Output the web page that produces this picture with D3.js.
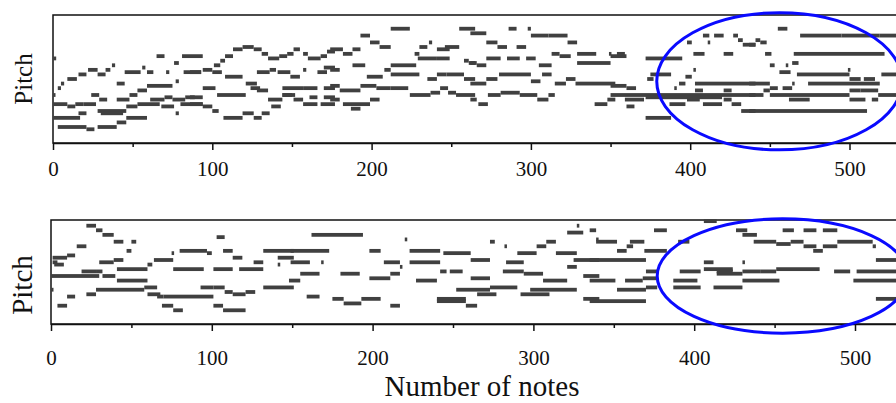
<!DOCTYPE html>
<html>
<head>
<meta charset="utf-8">
<script src="https://cdn.jsdelivr.net/npm/d3@7"></script>
<style>
    html, body { margin: 0; padding: 0; background: #fff; }
    svg { display: block; font-family: "Liberation Serif", "Times New Roman", serif; }
</style>
</head>
<body>
<div id="chart"></div>
<script>
// x ticks (number of notes)
var majorTicks = [0, 100, 200, 300, 400, 500];
var minorTicks = [50, 150, 250, 350, 450];

// notes: [start, end, pitch]  (pitch counted in semitones from the bottom of the panel)
var topNotes = [
    [0,2,37],[65,70,38],[81,94,38],[76,79,35],[71,73,31],
    [0,1,21],[3,5,24],[5,7,26],[9,15,28],[16,21,30],[22,28,32],[28,33,30],[33,36,32],[37,39,34],[45,55,31],[56,58,33],[59,63,31],
    [40,45,26],
    [24,29,21],[29,34,19],[40,48,19],[48,53,21],[53,59,23],[59,75,25],[77,79,27],[82,93,31],
    [61,70,19],[70,75,20],[75,83,19],[83,89,20],
    [0,9,17],[9,14,16],[14,19,17],[19,27,17],[28,46,14],[30,44,13],[46,53,16],[53,67,17],[68,76,16],[77,79,13],[80,94,17],
    [0,17,11],[16,21,13],[46,59,11],
    [3,21,7],[21,26,6],[28,40,7],[40,46,9],
    [101,105,34],[105,108,36],[108,113,38],[113,119,41],[119,126,42],[126,131,41],[131,135,39],[135,142,37],[142,147,38],[147,151,39],[151,155,41],[157,160,39],[160,168,37],[168,172,38],[172,177,40],
    [86,93,31],[94,100,32],[100,106,31],[108,119,29],[128,136,31],[136,140,32],[141,149,31],[149,155,29],[157,159,32],[166,172,31],[170,177,33],
    [94,102,24],[103,121,21],[121,128,26],[124,130,24],[128,135,23],[144,157,24],[144,152,21],[157,166,24],[170,177,24],
    [86,94,20],[86,94,17],[94,100,16],[100,104,14],[107,119,11],[119,126,13],[126,131,11],[131,136,13],[137,143,16],[135,144,19],[144,150,21],[151,157,19],[157,166,17],[161,166,20],[168,177,17],[170,177,20],
    [212,224,50],[255,265,50],
    [193,199,47],[199,205,44],[205,212,42],
    [174,182,41],[182,188,39],[188,193,41],
    [227,230,39],[230,235,42],[236,238,44],[241,249,41],[246,255,42],
    [229,241,37],[241,249,37],[258,261,36],[261,265,35],
    [174,180,32],[188,196,34],[212,228,34],
    [197,207,29],[208,212,32],[212,230,30],[235,241,28],[241,247,30],[247,258,30],[258,265,28],
    [174,180,25],[180,193,23],[193,203,25],[203,212,24],[212,223,24],[224,237,21],[237,243,22],[243,248,24],[248,253,22],[253,265,21],
    [174,180,19],[182,199,17],[187,193,15],[199,205,19],
    [262,272,48],[272,279,44],[279,285,42],[291,297,42],
    [286,291,50],[298,300,50],
    [300,311,47],[311,323,47],[323,329,44],
    [272,281,37],[285,293,37],[297,303,37],[305,313,34],
    [262,266,35],[266,272,34],
    [313,318,39],[318,325,38],[329,341,39],[349,350,39],[329,350,35],
    [280,300,30],[300,306,27],[307,313,30],
    [262,272,26],[272,279,28],[315,322,26],[322,328,28],[328,353,26],
    [262,266,19],[267,273,17],[273,281,21],[281,293,22],[293,304,21],[304,311,19],[311,315,21],
    [340,348,17],[348,353,19],
    [350,360,38],[354,359,39],
    [372,395,37],
    [402,409,39],[421,427,39],
    [398,401,44],[408,412,47],[415,421,47],[411,412,44],[427,430,47],[430,433,45],[433,441,43],
    [402,403,32],
    [375,388,30],[373,377,28],[397,401,29],[393,397,26],[390,391,24],
    [403,441,26],
    [350,360,25],[360,366,24],
    [350,441,21],[372,420,20],
    [359,371,19],[360,365,16],[387,397,17],[403,408,23],[421,426,23],[398,406,19],[408,420,17],[421,426,19],[426,432,17],[432,441,14],
    [372,388,11],
    [455,461,50],
    [469,495,47],[495,519,47],[519,530,47],
    [437,441,43],[441,444,45],[444,448,44],[447,451,39],
    [465,522,39],
    [450,453,34],[460,461,34],[464,468,35],[456,463,31],
    [467,500,30],[499,500,32],[500,507,28],[509,516,28],[520,530,30],
    [437,450,26],[450,455,24],[458,464,24],[464,465,26],
    [474,519,26],
    [437,446,21],[446,450,23],[450,500,21],[500,507,23],[507,518,23],[518,530,21],
    [462,475,19],[500,510,19],[514,518,19],
    [437,511,14]
];

var bottomNotes = [
    [22,28,43],[28,32,41],[32,39,39],[39,45,36],
    [16,22,34],
    [47,50,32],[50,53,36],
    [1,10,29],[10,15,30],[1,4,27],[2,8,26],
    [0,30,21],[0,1,15],
    [19,28,23],[28,32,23],[30,39,27],[39,45,28],
    [32,40,21],[41,60,19],[41,60,24],
    [60,63,26],[64,76,28],[75,76,31],
    [80,97,32],[97,100,31],
    [76,95,24],[101,113,24],
    [103,108,38],
    [107,113,32],[113,119,29],[117,132,24],
    [126,132,27],[132,151,32],[141,151,29],[141,142,26],
    [58,66,16],[60,68,13],[66,70,12],[70,101,12],
    [28,58,15],
    [22,28,13],[10,15,12],[4,10,8],
    [69,76,8],[76,82,6],
    [93,101,16],[101,108,16],[108,113,14],[113,121,13],[121,127,14],[132,151,16],
    [101,107,8],[107,121,6],
    [148,155,19],
    [162,194,39],[220,221,37],
    [149,173,32],[149,161,27],[168,169,27],[198,205,32],[207,217,27],[223,242,32],[223,242,27],[217,218,25],[242,246,23],
    [155,167,22],[180,192,22],[198,211,20],[211,217,22],[227,240,19],
    [159,167,12],[175,182,11],[182,193,9],[193,205,11],[211,217,8],
    [240,258,11],[240,258,10],[258,265,8],
    [244,261,31],[261,273,28],[248,256,23],
    [252,273,15],[261,273,20],[273,290,16],[265,277,13],
    [273,276,36],[282,283,34],
    [283,294,27],[290,302,31],[302,308,34],[308,314,36],
    [281,294,23],[294,306,22],[306,321,19],[298,327,15],[292,310,13],
    [321,331,40],[327,328,43],[339,340,37],
    [314,327,31],[325,341,28],[331,341,21],[331,341,11],
    [321,327,25],
    [406,414,45],
    [335,339,41],[375,383,41],[455,462,41],[468,476,41],[480,489,41],[426,433,41],
    [339,352,36],[352,358,32],[358,362,34],[360,369,36],[369,383,32],[390,397,36],
    [430,439,39],[437,451,36],[451,460,35],[460,468,36],[468,476,34],[474,480,32],[480,489,34],[489,511,36],[511,513,34],
    [335,370,28],[513,526,28],
    [406,412,27],[430,431,27],
    [370,377,23],[391,404,23],[406,424,24],[414,424,23],[430,441,23],[441,451,23],[451,478,24],[487,497,23],[501,526,23],
    [335,351,19],[357,368,19],[368,377,20],[387,402,19],[414,430,22],[430,453,19],[499,526,19],
    [352,370,15],[370,377,16],[387,404,16],[412,430,16],
    [335,370,10],[513,526,11]
];

// highlighted region: [center note, center pitch, radius in notes, radius in pitch]
var topHighlight = [456, 27, 77, 30];
var bottomHighlight = [455, 21, 78, 25];

var width = 896,
    height = 403;

var svg = d3.select("#chart")
    .append("svg")
    .attr("width", width)
    .attr("height", height);

// one panel = one piano roll
function drawPanel(p) {
    var x = d3.scaleLinear().domain([0, 550]).range([p.left, p.left + 550 * p.pxPerNote]);
    var y = d3.scaleLinear().domain([0, p.maxPitch]).range([p.bottom, p.top]);

    var g = svg.append("g");

    // frame (right side falls outside the picture)
    g.append("rect")
        .attr("x", x(0))
        .attr("y", p.top)
        .attr("width", x(550) - x(0))
        .attr("height", p.bottom - p.top)
        .attr("fill", "none")
        .attr("stroke", "#111")
        .attr("stroke-width", 1.5);

    g.append("g")
        .selectAll("rect")
        .data(p.notes)
        .enter()
        .append("rect")
        .attr("x", function (d) { return x(d[0]); })
        .attr("y", function (d) { return y(d[2]) - 1.9; })
        .attr("width", function (d) { return Math.max(2.5, x(d[1]) - x(d[0])); })
        .attr("height", 3.8)
        .attr("fill", "#404040");

    var axis = g.append("g")
        .attr("transform", "translate(0," + p.bottom + ")")
        .call(d3.axisBottom(x).tickValues(majorTicks).tickSize(7).tickSizeOuter(0));
    axis.select(".domain").attr("stroke", "#111").attr("stroke-width", 1.5);
    axis.selectAll(".tick line").attr("stroke", "#111").attr("stroke-width", 1.5);
    axis.selectAll(".tick text")
        .attr("y", p.labelOffset)
        .attr("dy", 0)
        .attr("fill", "#111")
        .style("font-family", "'Liberation Serif', 'Times New Roman', serif")
        .style("font-size", "21px");

    var minor = g.append("g")
        .attr("transform", "translate(0," + p.bottom + ")")
        .call(d3.axisBottom(x).tickValues(minorTicks).tickSize(4).tickFormat(""));
    minor.select(".domain").remove();
    minor.selectAll(".tick line").attr("stroke", "#111").attr("stroke-width", 1.5);

    g.append("text")
        .attr("transform", "translate(" + p.yLabelX + "," + p.yLabelY + ") rotate(-90)")
        .attr("text-anchor", "middle")
        .attr("fill", "#111")
        .style("font-size", p.yLabelSize + "px")
        .text("Pitch");

    var h = p.highlight;
    g.append("ellipse")
        .attr("cx", x(h[0]))
        .attr("cy", y(h[1]))
        .attr("rx", x(h[0] + h[2]) - x(h[0]))
        .attr("ry", y(h[1] - h[3]) - y(h[1]))
        .attr("fill", "none")
        .attr("stroke", "#0a0aff")
        .attr("stroke-width", 3);
}

drawPanel({ notes: topNotes, highlight: topHighlight, left: 53, pxPerNote: 1.593,
    top: 15, bottom: 143, maxPitch: 56, labelOffset: 33, yLabelX: 32, yLabelY: 79, yLabelSize: 25 });
drawPanel({ notes: bottomNotes, highlight: bottomHighlight, left: 51, pxPerNote: 1.608,
    top: 220, bottom: 324, maxPitch: 45.5, labelOffset: 41, yLabelX: 32, yLabelY: 285, yLabelSize: 29 });

svg.append("text")
    .attr("x", 482)
    .attr("y", 396)
    .attr("text-anchor", "middle")
    .attr("fill", "#111")
    .style("font-size", "29px")
    .text("Number of notes");
</script>
</body>
</html>
